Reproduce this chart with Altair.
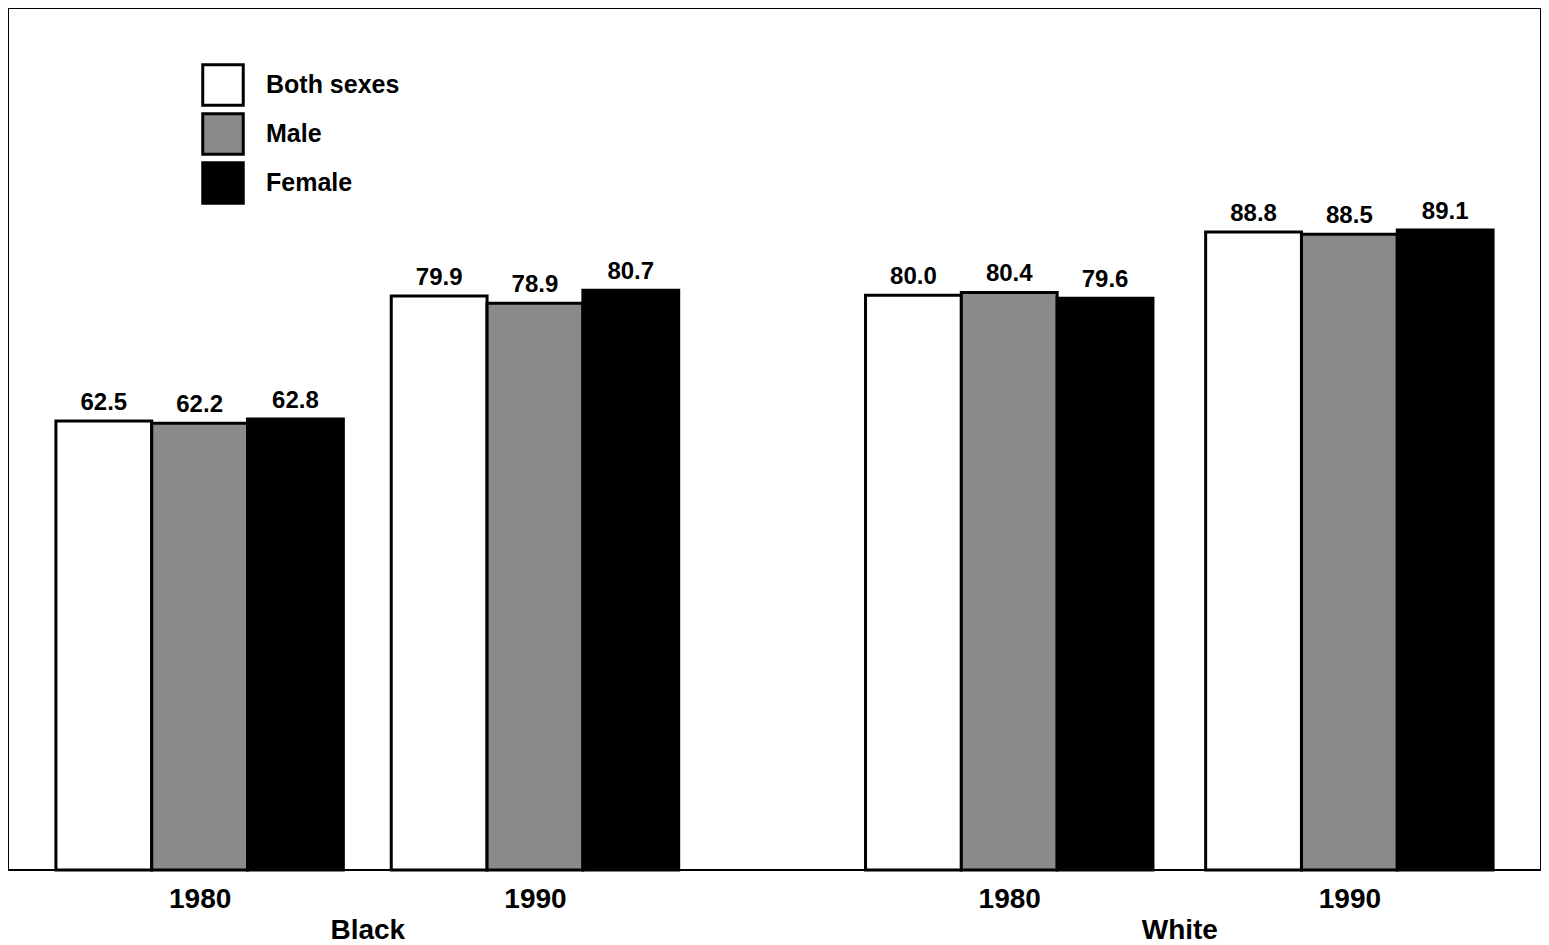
import altair as alt
import pandas as pd

# ---- data ----
races = ["Black", "Black", "White", "White"]
years = ["1980", "1990", "1980", "1990"]
sexes = ["Both sexes", "Male", "Female"]
both_sexes = [62.5, 79.9, 80.0, 88.8]
male = [62.2, 78.9, 80.4, 88.5]
female = [62.8, 80.7, 79.6, 89.1]

# ---- layout (x units: one unit = one bar width) ----
group_center = [2.0, 5.5, 10.45, 14.0]
sex_offset = [-1.0, 0.0, 1.0]
race_center = {"Black": 3.75, "White": 12.225}

rows = []
for g in range(4):
    for s, vals in enumerate([both_sexes, male, female]):
        c = group_center[g] + sex_offset[s]
        rows.append({
            "race": races[g], "year": years[g], "sex": sexes[s],
            "value": vals[g], "x0": c - 0.5, "x1": c + 0.5, "xc": c,
            "label": f"{vals[g]:.1f}",
        })
df = pd.DataFrame(rows)

tick_vals = group_center + list(race_center.values())
expr_parts = []
for v, y in zip(group_center, years):
    expr_parts.append(f"datum.value == {v} ? ['{y}'] : ")
for r, v in race_center.items():
    expr_parts.append(f"datum.value == {v} ? ['', '{r}'] : ")
label_expr = "".join(expr_parts) + "''"

FONT = "Liberation Sans"

xscale = alt.Scale(domain=[0, 16], nice=False, zero=False)
yscale = alt.Scale(domain=[0, 120], nice=False)

color = alt.Color(
    "sex:N",
    scale=alt.Scale(domain=sexes, range=["#ffffff", "#8a8a8a", "#000000"]),
    legend=alt.Legend(
        title=None, orient="none", legendX=193, legendY=55,
        symbolType="square", symbolSize=1640, symbolStrokeColor="black",
        symbolStrokeWidth=3, symbolFillColor="white",
        labelFont=FONT, labelFontSize=25, labelFontWeight="bold",
        labelColor="black", labelOffset=21, rowPadding=-11, padding=0,
    ),
)

bars = alt.Chart(df).mark_bar(stroke="black", strokeWidth=3, opacity=1).encode(
    x=alt.X("x0:Q", scale=xscale,
            axis=alt.Axis(values=tick_vals, labelExpr=label_expr, title=None,
                          ticks=False, domain=False, grid=False,
                          labelFont=FONT, labelFontSize=28, labelFontWeight="bold",
                          labelColor="black", labelPadding=15, labelLineHeight=31,
                          labelOverlap=False, labelBound=False, labelFlush=False)),
    x2="x1:Q",
    y=alt.Y("value:Q", scale=yscale, axis=None),
    y2=alt.datum(0),
    fill=color,
)

labels = alt.Chart(df).mark_text(
    font=FONT, fontSize=24, fontWeight="bold", color="black",
    baseline="bottom", dy=-6,
).encode(
    x=alt.X("xc:Q", scale=xscale),
    y=alt.Y("value:Q", scale=yscale),
    text="label:N",
)

chart = alt.layer(bars, labels).properties(
    width=1533, height=862, padding=0,
).configure(
    background="white",
).configure_view(
    stroke="black", strokeWidth=2,
)

chart.save("out.html", embed_options={"renderer": "svg", "actions": False})
